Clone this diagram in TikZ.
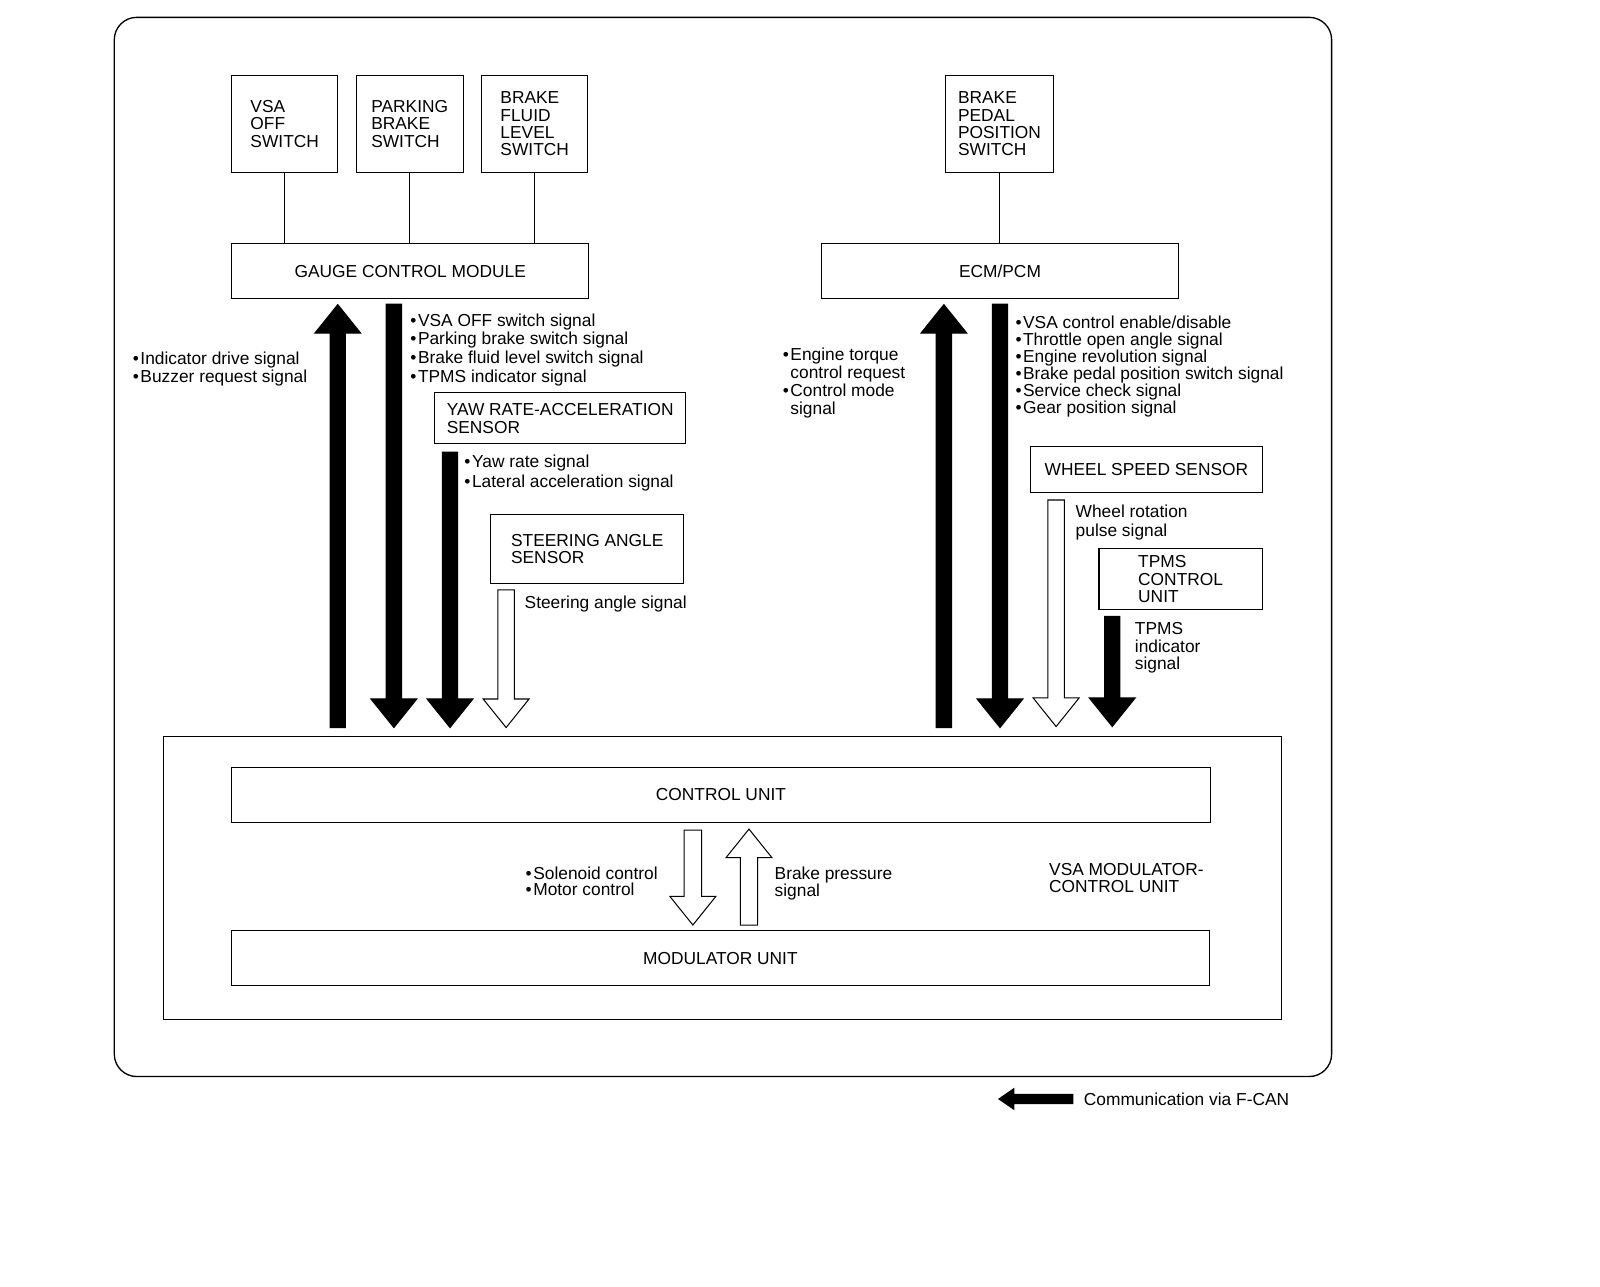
\documentclass[tikz,border=0pt]{standalone}
\usepackage{fontspec}
\setmainfont{Liberation Sans}
\usetikzlibrary{calc}
\newcommand\bul{•\kern1.5pt}
% vertical block arrow: #1 x, #2 y of tail, #3 y of tip, #4 fill, #5 half shaft width
\newcommand\vblock[5]{%
  \pgfmathsetmacro\hbase{#3 - 28*sign(#3-#2)}%
  \filldraw[fill=#4, draw=black, line width=1pt, line join=miter]
    (#1-#5,#2) -- (#1-#5,\hbase) -- (#1-22.5,\hbase) -- (#1,#3) --
    (#1+22.5,\hbase) -- (#1+#5,\hbase) -- (#1+#5,#2) -- cycle;}
\begin{document}
\begin{tikzpicture}[x=1pt,y=-1pt,
  font=\fontsize{17}{17}\selectfont,
  box/.style={draw, line width=1pt, align=left, inner sep=0pt},
  lbl/.style={anchor=north west, inner sep=0pt, align=left},
  wire/.style={line width=1pt}]
\useasboundingbox (0,0) rectangle (1568,1261);
\fill[white] (0,0) rectangle (1568,1261);

% frame
\draw[line width=1.3pt, rounded corners=22pt] (112,17) rectangle (1305,1055);

% switches and modules
\node[box, minimum width=104, minimum height=95] (vsa) at (279,121.5) {VSA\\OFF\\SWITCH};
\node[box, minimum width=105, minimum height=95] (pbs) at (401.5,121.5) {PARKING\\BRAKE\\SWITCH};
\node[box, minimum width=104, minimum height=95] (bfl) at (524,121.5) {BRAKE\\FLUID\\LEVEL\\SWITCH};
\node[box, minimum width=350, minimum height=54] (gcm) at (402,266) {GAUGE CONTROL MODULE};
\node[box, minimum width=105, minimum height=95] (bpp) at (979.5,121.5) {BRAKE\\PEDAL\\POSITION\\SWITCH};
\node[box, minimum width=350, minimum height=54] (ecm) at (980,266) {ECM/PCM};

\draw[wire] (vsa.south) -- (vsa.south |- gcm.north);
\draw[wire] (pbs.south) -- (pbs.south |- gcm.north);
\draw[wire] (bfl.south) -- (bfl.south |- gcm.north);
\draw[wire] (bpp.south) -- (bpp.south |- ecm.north);

% sensors
\node[box, minimum width=246, minimum height=50] (yaw) at (549,410) {YAW RATE-ACCELERATION\\SENSOR};
\node[box, minimum width=189, minimum height=68] (sas) at (575.5,538) {STEERING ANGLE\\SENSOR};
\node[box, minimum width=227, minimum height=45] (wss) at (1123.5,460.5) {WHEEL SPEED SENSOR};
\node[box, minimum width=160, minimum height=59] (tpms) at (1157,567.5) {TPMS\\CONTROL\\UNIT};

% VSA modulator-control unit
\node[box, minimum width=1096, minimum height=277] (vmc) at (708,860.5) {};
\node[box, minimum width=959, minimum height=54] (cu) at (706.5,779) {CONTROL UNIT};
\node[box, minimum width=958, minimum height=54] (mu) at (706,939) {MODULATOR UNIT};

% signal arrows (left group)
\vblock{331}{713}{298.5}{black}{7.5}
\vblock{386}{298}{713}{black}{7.5}
\vblock{441}{443}{713}{black}{7.5}
\vblock{496}{578}{713}{white}{8}
% signal arrows (right group)
\vblock{925}{713}{298.5}{black}{7.5}
\vblock{980}{298}{713}{black}{7.5}
\vblock{1035}{490}{712}{white}{8}
\vblock{1090}{604}{712}{black}{7.5}
% internal arrows
\vblock{679}{813.5}{906.5}{white}{8.5}
\vblock{734}{906.5}{812.5}{white}{8.5}

% labels
\node[lbl] (l1) at (130,345) {\bul Indicator drive signal\\\bul Buzzer request signal};
\node[lbl, font=\fontsize{17}{18.3}\selectfont] (l2) at (402,307)
  {\bul VSA OFF switch signal\\\bul Parking brake switch signal\\\bul Brake fluid level switch signal\\\bul TPMS indicator signal};
\node[lbl, font=\fontsize{17}{19}\selectfont] (l3) at (455,446) {\bul Yaw rate signal\\\bul Lateral acceleration signal};
\node[lbl] (l4) at (514,584) {Steering angle signal};
\node[lbl, font=\fontsize{17}{17.7}\selectfont] (l5) at (767,341)
  {\bul Engine torque\\\hphantom{\bul}control request\\\bul Control mode\\\hphantom{\bul}signal};
\node[lbl, font=\fontsize{17}{16.8}\selectfont] (l6) at (995,309)
  {\bul VSA control enable/disable\\\bul Throttle open angle signal\\\bul Engine revolution signal\\\bul Brake pedal position switch signal\\\bul Service check signal\\\bul Gear position signal};
\node[lbl, font=\fontsize{17}{18}\selectfont] (l7) at (1054,495) {Wheel rotation\\pulse signal};
\node[lbl] (l8) at (1112,610) {TPMS\\indicator\\signal};
\node[lbl, font=\fontsize{17}{16.3}\selectfont] (l9) at (515,849) {\bul Solenoid control\\\bul Motor control};
\node[lbl] (l10) at (759,849) {Brake pressure\\signal};
\node[lbl] (l11) at (1028,846) {VSA MODULATOR-\\CONTROL UNIT};

% legend
\node[lbl, anchor=west] (leg) at (1062,1077) {Communication via F-CAN};
\fill[black] (1052,1072) -- (994,1072) -- (994,1066) -- (978,1077) -- (994,1088) -- (994,1082) -- (1052,1082) -- cycle;
\end{tikzpicture}
\end{document}
